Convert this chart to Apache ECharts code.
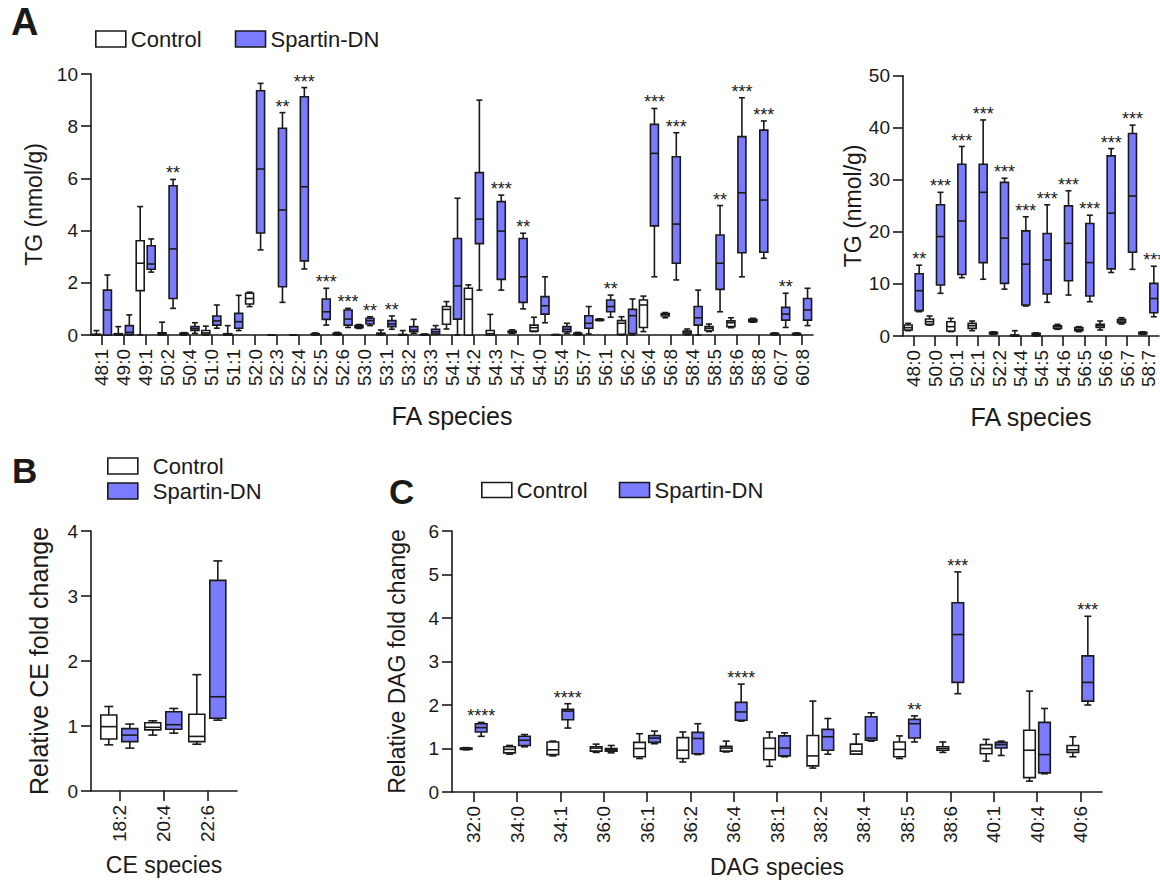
<!DOCTYPE html>
<html>
<head>
<meta charset="utf-8">
<script src="https://cdn.jsdelivr.net/npm/echarts@6/dist/echarts.min.js"></script>
<style>
html,body{margin:0;padding:0;background:#fff;}
#main{width:1160px;height:883px;}
</style>
</head>
<body>
<div id="main"></div>
<script>
// ---------------- DATA ----------------
// Each box: [min, Q1, median, Q3, max]
const catsA = ['48:1','49:0','49:1','50:2','50:4','51:0','51:1','52:0','52:3','52:4','52:5','52:6','53:0','53:1','53:2','53:3','54:1','54:2','54:3','54:7','54:0','55:4','55:7','56:1','56:2','56:4','56:8','58:4','58:5','58:6','58:8','60:7','60:8'];
const ctrlA = [
  [0,0,0.01,0.03,0.17],[0,0,0.02,0.05,0.32],[0,1.7,2.75,3.61,4.92],[0,0.01,0.05,0.08,0.49],
  [0,0.02,0.05,0.07,0.09],[0,0.03,0.08,0.17,0.34],[0,0,0.03,0.05,0.36],[1.09,1.19,1.4,1.6,1.64],
  [0,0,0,0,0],[0,0,0,0,0],[0,0.01,0.03,0.05,0.08],[0,0.02,0.04,0.07,0.1],
  [0.25,0.28,0.33,0.37,0.4],[0,0.02,0.05,0.07,0.19],[0,0,0.01,0.02,0.17],[0,0,0.01,0.02,0.04],
  [0.23,0.41,0.98,1.09,1.28],[0,0,1.37,1.79,1.92],[0,0,0.05,0.17,0.79],[0.06,0.09,0.12,0.15,0.2],
  [0.13,0.15,0.28,0.38,0.68],[0,0,0.01,0.01,0.02],[0,0.02,0.04,0.07,0.1],[0.55,0.56,0.58,0.6,0.62],
  [0,0.03,0.45,0.55,0.7],[0.13,0.29,1.15,1.34,1.49],[0.66,0.73,0.79,0.82,0.86],[0,0.04,0.08,0.15,0.23],
  [0.13,0.17,0.26,0.32,0.42],[0.28,0.32,0.47,0.54,0.66],[0.49,0.51,0.55,0.6,0.64],[0,0.02,0.04,0.06,0.08],
  [0,0.02,0.04,0.06,0.08]
];
const spartA = [
  [0,0,0.96,1.72,2.3],[0,0.02,0.1,0.36,0.77],[2.41,2.52,2.72,3.42,3.68],[1.02,1.4,3.3,5.72,5.96],
  [0.06,0.17,0.24,0.32,0.47],[0.26,0.38,0.54,0.73,1.15],[0.17,0.26,0.51,0.83,1.52],[3.26,3.91,6.36,9.36,9.64],
  [1.25,1.85,4.79,7.92,8.52],[2.53,2.84,5.68,9.13,9.48],[0.38,0.6,0.89,1.38,1.79],[0.29,0.38,0.61,0.96,1.02],
  [0.36,0.42,0.55,0.64,0.7],[0.22,0.32,0.42,0.55,0.73],[0.06,0.13,0.19,0.32,0.6],[0.02,0.04,0.12,0.22,0.36],
  [0,0.61,1.88,3.7,5.24],[1.72,3.5,4.44,6.22,9.0],[1.72,2.13,3.98,5.11,5.36],[1.0,1.25,2.23,3.7,3.9],
  [0.47,0.8,1.12,1.47,2.23],[0.06,0.13,0.22,0.32,0.45],[0.04,0.26,0.45,0.74,1.09],[0.68,0.89,1.09,1.34,1.53],
  [0,0.06,0.74,0.98,1.38],[2.23,4.18,6.96,8.07,8.68],[2.11,2.75,4.25,6.83,7.75],[0,0.38,0.66,1.09,1.72],
  [0.89,1.75,2.75,3.83,4.96],[2.23,3.15,5.45,7.6,9.09],[2.94,3.17,5.17,7.85,8.2],[0.29,0.57,0.8,1.06,1.6],
  [0.36,0.57,0.96,1.4,1.79]
];
const sigA = ['','','','**','','','','','**','***','***','***','**','**','','','','','***','**','','','','**','','***','***','','**','***','***','**',''];

const catsA2 = ['48:0','50:0','50:1','52:1','52:2','54:4','54:5','54:6','56:5','56:6','56:7','58:7'];
const ctrlA2 = [
  [1.02,1.15,1.6,2.11,2.43],[2.1,2.24,2.75,3.27,3.84],[0.83,0.96,1.79,2.75,3.39],[1.02,1.47,1.98,2.43,2.88],
  [0.3,0.4,0.6,0.7,0.8],[0,0,0.1,0.2,1.02],[0,0.1,0.3,0.5,0.6],[1.28,1.47,1.8,1.98,2.24],
  [0.83,1.02,1.28,1.6,1.79],[1.15,1.66,1.98,2.24,2.88],[2.3,2.56,2.88,3.2,3.52],[0.3,0.4,0.5,0.7,0.8]
];
const spartA2 = [
  [4.67,4.87,8.7,11.97,13.6],[8.2,9.8,19.1,25.2,27.6],[11.2,11.8,22.1,33.0,36.4],[10.9,14.1,27.6,33.0,41.5],
  [9.0,10.1,18.8,29.5,30.3],[5.76,5.95,13.8,20.2,22.9],[6.47,8.07,14.6,19.7,25.2],[7.87,10.6,17.8,25.0,27.9],
  [6.59,7.68,14.1,21.6,23.2],[12.2,12.9,23.6,34.6,36.0],[12.8,16.1,26.9,38.9,40.5],[3.7,4.48,7.2,10.1,13.4]
];
const sigA2 = ['**','***','***','***','***','***','***','***','***','***','***','***'];

const catsB = ['18:2','20:4','22:6'];
const ctrlB = [[0.71,0.8,0.99,1.17,1.3],[0.86,0.94,0.98,1.05,1.08],[0.72,0.76,0.84,1.18,1.79]];
const spartB = [[0.66,0.76,0.86,0.96,1.03],[0.89,0.95,1.02,1.22,1.27],[1.09,1.12,1.45,3.24,3.54]];
const sigB = ['','',''];

const catsC = ['32:0','34:0','34:1','36:0','36:1','36:2','36:4','38:1','38:2','38:4','38:5','38:6','40:1','40:4','40:6'];
const ctrlC = [
  [0.97,0.98,1.0,1.01,1.02],[0.87,0.9,0.98,1.04,1.07],[0.83,0.86,0.97,1.15,1.17],[0.91,0.94,1.01,1.04,1.1],
  [0.77,0.81,1.0,1.14,1.34],[0.69,0.77,0.96,1.25,1.38],[0.92,0.94,1.01,1.05,1.17],[0.59,0.74,1.0,1.24,1.38],
  [0.55,0.6,0.83,1.3,2.09],[0.87,0.87,0.94,1.1,1.33],[0.77,0.81,0.98,1.15,1.29],[0.91,0.96,1.0,1.04,1.15],
  [0.71,0.88,1.0,1.09,1.21],[0.25,0.33,0.96,1.42,2.32],[0.81,0.91,0.97,1.07,1.27]
];
const spartC = [
  [1.28,1.38,1.48,1.57,1.6],[1.04,1.07,1.19,1.28,1.32],[1.47,1.66,1.86,1.9,2.03],[0.9,0.94,0.97,1.0,1.07],
  [1.11,1.14,1.24,1.3,1.4],[0.86,0.88,1.23,1.37,1.57],[1.63,1.65,1.84,2.06,2.48],[0.81,0.83,1.01,1.29,1.36],
  [0.87,0.96,1.27,1.44,1.69],[1.17,1.19,1.24,1.73,1.82],[1.15,1.24,1.57,1.67,1.75],[2.26,2.52,3.62,4.35,5.06],
  [0.84,1.01,1.09,1.14,1.17],[0.42,0.44,0.86,1.6,1.92],[2.0,2.09,2.52,3.13,4.04]
];
const sigC = ['****','','****','','','','****','','','','**','***','','','***'];

// ---------------- STYLE ----------------
const FONT = "'Liberation Sans', Arial, Helvetica, sans-serif";
const INK = '#1a1a1a';
const BLUE = '#7b7bff';
const LW = 1.6;

function boxRender(offset, halfW, capHalf, sig) {
  return function (params, api) {
    const i = api.value(0);
    const v = [api.value(1), api.value(2), api.value(3), api.value(4), api.value(5)];
    const cx = api.coord([i, 0])[0] + offset;
    const py = v.map(val => api.coord([i, val])[1]);
    const fill = params.seriesName === 'Control' ? '#ffffff' : BLUE;
    const st = { stroke: INK, lineWidth: LW, fill: null };
    const children = [
      { type: 'line', shape: { x1: cx, y1: py[0], x2: cx, y2: py[1] }, style: st },
      { type: 'line', shape: { x1: cx, y1: py[3], x2: cx, y2: py[4] }, style: st },
      { type: 'line', shape: { x1: cx - capHalf, y1: py[0], x2: cx + capHalf, y2: py[0] }, style: st },
      { type: 'line', shape: { x1: cx - capHalf, y1: py[4], x2: cx + capHalf, y2: py[4] }, style: st },
      { type: 'rect', shape: { x: cx - halfW, y: py[3], width: halfW * 2, height: py[1] - py[3] },
        style: { fill: fill, stroke: INK, lineWidth: LW } },
      { type: 'line', shape: { x1: cx - halfW, y1: py[2], x2: cx + halfW, y2: py[2] }, style: st }
    ];
    const s = sig && sig[i];
    if (s) {
      children.push({ type: 'text', x: cx, y: py[4] - 6,
        style: { text: s, fill: INK, font: '18px ' + FONT, align: 'center', verticalAlign: 'middle' } });
    }
    return { type: 'group', children: children };
  };
}

function toData(arr) { return arr.map((b, i) => [i].concat(b)); }

function series(name, gi, arr, offset, halfW, capHalf, sig) {
  return {
    type: 'custom', name: name, xAxisIndex: gi, yAxisIndex: gi,
    data: toData(arr),
    encode: { x: 0, y: [1, 2, 3, 4, 5] },
    itemStyle: { color: name === 'Control' ? '#fff' : BLUE, borderColor: INK, borderWidth: LW },
    renderItem: boxRender(offset, halfW, capHalf, sig),
    silent: true, animation: false
  };
}

function xCat(gi, cats, fs, margin, name, nameFs, nameGap) {
  return {
    type: 'category', gridIndex: gi, data: cats,
    name: name, nameLocation: 'middle', nameGap: nameGap,
    nameTextStyle: { color: INK, fontSize: nameFs, fontFamily: FONT },
    axisLine: { show: true, onZero: false, lineStyle: { color: INK, width: LW } },
    axisTick: { show: true, alignWithLabel: true, length: 10, lineStyle: { color: INK, width: LW } },
    axisLabel: { interval: 0, rotate: 90, color: INK, fontSize: fs, fontFamily: FONT, margin: margin },
    splitLine: { show: false }
  };
}
function yVal(gi, max, interval, name, fs, nameFs, nameGap) {
  return {
    type: 'value', gridIndex: gi, min: 0, max: max, interval: interval,
    name: name, nameLocation: 'middle', nameGap: nameGap,
    nameTextStyle: { color: INK, fontSize: nameFs, fontFamily: FONT },
    axisLine: { show: true, onZero: false, lineStyle: { color: INK, width: LW } },
    axisTick: { show: true, length: 10, lineStyle: { color: INK, width: LW } },
    axisLabel: { color: INK, fontSize: fs, fontFamily: FONT, margin: 13 },
    splitLine: { show: false }
  };
}

const legendItems = [
  { name: 'Control', itemStyle: { color: '#fff', borderColor: INK, borderWidth: LW } },
  { name: 'Spartin-DN', itemStyle: { color: BLUE, borderColor: INK, borderWidth: LW } }
];
const legendText = { color: INK, fontSize: 22, fontFamily: FONT };

const chart = echarts.init(document.getElementById('main'), null, { renderer: 'svg' });
const option = {
  animation: false,
  backgroundColor: '#fff',
  textStyle: { fontFamily: FONT },
  legend: [
    { data: legendItems, left: 90, top: 23, itemWidth: 30, itemHeight: 16, itemGap: 33, icon: 'rect',
      textStyle: Object.assign({ padding: [0, 0, 0, 0] }, legendText), selectedMode: false },
    { data: legendItems, left: 102, top: 450, orient: 'vertical', itemWidth: 30, itemHeight: 16, itemGap: 3, icon: 'rect',
      textStyle: Object.assign({ padding: [0, 0, 0, 10] }, legendText), selectedMode: false },
    { data: legendItems, left: 476, top: 474, itemWidth: 30, itemHeight: 15, itemGap: 31, icon: 'rect',
      textStyle: Object.assign({ padding: [0, 0, 0, 0] }, legendText), selectedMode: false }
  ],
  grid: [
    { left: 91, top: 74, width: 722, height: 261 },
    { left: 903, top: 75.7, width: 256, height: 260.3 },
    { left: 91, top: 531, width: 146, height: 260 },
    { left: 452, top: 531, width: 650, height: 261 }
  ],
  xAxis: [
    xCat(0, catsA, 19, 14, 'FA species', 25, 68),
    xCat(1, catsA2, 19, 14, 'FA species', 25, 68),
    {
      type: 'value', gridIndex: 2, min: -0.643, max: 2.675,
      name: 'CE species', nameLocation: 'middle', nameGap: 62,
      nameTextStyle: { color: INK, fontSize: 23, fontFamily: FONT },
      axisLine: { show: true, onZero: false, lineStyle: { color: INK, width: LW } },
      axisTick: { show: true, length: 10, customValues: [0, 1, 2], lineStyle: { color: INK, width: LW } },
      axisLabel: { rotate: 90, color: INK, fontSize: 19, fontFamily: FONT, margin: 14, customValues: [0, 1, 2],
        formatter: v => catsB[Math.round(v)] },
      splitLine: { show: false }
    },
    xCat(3, catsC, 19, 14, 'DAG species', 23, 63)
  ],
  yAxis: [
    yVal(0, 10, 2, 'TG (nmol/g)', 19, 23, 37),
    yVal(1, 50, 10, 'TG (nmol/g)', 19, 23, 37),
    yVal(2, 4, 1, 'Relative CE fold change', 19, 25, 40),
    yVal(3, 6, 1, 'Relative DAG fold change', 19, 23, 44)
  ],
  graphic: [
    { type: 'text', left: 11, top: 3, style: { text: 'A', font: 'bold 38px ' + FONT, fill: INK } },
    { type: 'text', left: 12, top: 453, style: { text: 'B', font: 'bold 35px ' + FONT, fill: INK } },
    { type: 'text', left: 389, top: 474, style: { text: 'C', font: 'bold 35px ' + FONT, fill: INK } }
  ],
  series: [
    series('Control', 0, ctrlA, -5.5, 4, 3, null),
    series('Spartin-DN', 0, spartA, 5.5, 4, 3, sigA),
    series('Control', 1, ctrlA2, -5.5, 4, 3, null),
    series('Spartin-DN', 1, spartA2, 5.5, 4, 3, sigA2),
    series('Control', 2, ctrlB, -10.5, 8, 4.5, null),
    series('Spartin-DN', 2, spartB, 10.5, 8, 4.5, sigB),
    series('Control', 3, ctrlC, -7.5, 5.8, 3.5, null),
    series('Spartin-DN', 3, spartC, 7.5, 5.8, 3.5, sigC)
  ]
};
chart.setOption(option);
</script>
</body>
</html>
